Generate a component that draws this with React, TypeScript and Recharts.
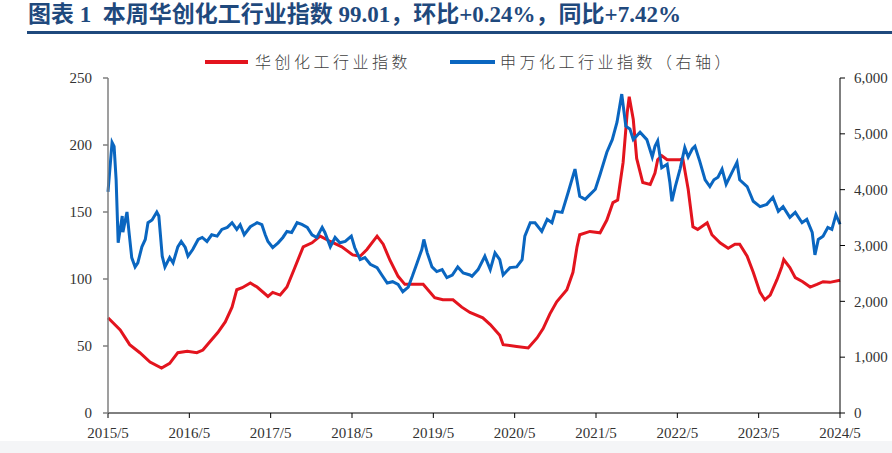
import React from "react";
import { LineChart, Line, XAxis, YAxis } from "recharts";

// X positions are months since 2015/5
const xTickLabels = ["2015/5", "2016/5", "2017/5", "2018/5", "2019/5", "2020/5", "2021/5", "2022/5", "2023/5", "2024/5"];
const xTicks = [0, 12, 24, 36, 48, 60, 72, 84, 96, 108];
const leftTicks = [0, 50, 100, 150, 200, 250];
const rightTicks = [0, 1000, 2000, 3000, 4000, 5000, 6000];

const seriesNames = ["华创化工行业指数", "申万化工行业指数（右轴）"];

// 华创化工行业指数 (left axis)
const hcMonths = [0, 0.3, 1.8, 3.2, 4.7, 6.2, 7.9, 9.1, 10.3, 11.7, 13.1, 14.0, 15.0, 16.2, 17.3, 18.3, 19.0, 19.8, 21.0, 22.0, 23.6, 24.3, 25.4, 26.4, 27.6, 28.8, 30.1, 31.3, 32.8, 34.5, 36.1, 37.2, 38.2, 39.7, 40.6, 41.6, 42.8, 43.8, 46.5, 48.2, 49.4, 50.9, 52.2, 53.4, 55.3, 56.4, 57.8, 58.3, 60.3, 62.0, 63.3, 64.2, 65.2, 66.2, 67.7, 68.6, 69.2, 69.6, 71.1, 72.6, 73.6, 74.5, 75.2, 76.0, 76.6, 76.9, 77.5, 78.0, 78.9, 80.0, 80.7, 81.1, 81.7, 82.5, 84.4, 84.8, 85.6, 86.3, 87.0, 88.4, 89.1, 90.3, 91.5, 92.5, 93.2, 94.3, 95.2, 96.2, 96.9, 97.7, 98.7, 99.4, 99.7, 100.6, 101.4, 102.5, 103.6, 104.6, 105.5, 106.5, 108];
const hcValues = [71, 69.6, 62, 51, 45, 38, 33.5, 37, 45, 46, 45, 47, 53, 60, 68, 79, 92, 93.5, 97, 94, 87, 90, 88, 94, 109, 124, 127, 132, 128, 124, 118, 117, 122, 132, 126, 114, 102, 96, 96, 86, 84.5, 84.5, 79, 75, 71, 66, 58, 51, 49.6, 48.5, 56, 63, 74, 83, 92, 105, 124, 133, 135.5, 134.5, 144, 157, 159, 187, 224, 236, 219, 190, 172, 170.5, 179, 189, 192, 189, 189, 190, 167, 139, 137, 142, 133, 127, 123, 126, 126, 117, 105, 90, 84.5, 88, 99.5, 109, 114.5, 108.5, 101, 98, 94, 96, 98, 97.5, 99.01];

// 申万化工行业指数 (right axis)
const swMonths = [0, 0.6, 0.9, 1.2, 1.5, 2.1, 2.2, 2.8, 3.1, 3.5, 4.0, 4.4, 5.0, 5.5, 5.9, 6.5, 7.2, 7.5, 8.0, 8.4, 9.1, 9.6, 10.3, 10.8, 11.4, 11.8, 12.5, 13.3, 13.9, 14.6, 15.3, 16.1, 16.8, 17.6, 18.3, 19.0, 19.5, 20.1, 21.0, 22.0, 22.7, 23.2, 23.6, 24.3, 25.1, 25.8, 26.4, 27.1, 27.9, 28.6, 29.4, 30.1, 30.8, 31.6, 32.0, 32.8, 33.5, 34.2, 35.0, 35.9, 36.4, 37.2, 37.9, 38.7, 39.7, 40.4, 41.2, 42.0, 42.8, 43.5, 44.3, 44.9, 45.6, 46.3, 46.6, 47.1, 47.8, 48.5, 49.3, 50.0, 50.8, 51.6, 52.4, 53.4, 53.7, 54.6, 55.6, 56.4, 57.1, 57.8, 58.3, 59.3, 60.3, 61.1, 61.5, 62.3, 63.0, 64.0, 64.8, 65.5, 66.0, 67.0, 67.9, 68.9, 69.6, 70.4, 71.1, 71.9, 72.6, 73.6, 74.4, 75.1, 75.8, 76.4, 77.0, 77.5, 78.5, 79.5, 80.3, 80.7, 81.1, 81.7, 82.5, 82.9, 83.2, 83.7, 84.4, 85.1, 85.6, 86.2, 86.6, 87.3, 88.1, 88.8, 89.4, 90.0, 90.6, 91.2, 92.1, 92.8, 93.2, 94.3, 95.2, 96.2, 97.2, 98.1, 98.9, 99.6, 100.6, 101.4, 102.4, 103.1, 103.9, 104.3, 104.8, 105.5, 106.2, 106.8, 107.4, 108];
const swValues = [3960, 4848, 4776, 4176, 3048, 3528, 3240, 3600, 3240, 2784, 2616, 2688, 2976, 3108, 3408, 3456, 3600, 3528, 2808, 2616, 2784, 2688, 2976, 3072, 2964, 2808, 2928, 3108, 3144, 3072, 3192, 3168, 3288, 3324, 3408, 3288, 3372, 3192, 3336, 3408, 3372, 3192, 3072, 2964, 3048, 3144, 3252, 3233, 3408, 3377, 3324, 3192, 3144, 3324, 3233, 2976, 3144, 3048, 3072, 3168, 2964, 2748, 2784, 2664, 2604, 2472, 2328, 2352, 2304, 2172, 2256, 2448, 2688, 2928, 3108, 2868, 2616, 2532, 2568, 2424, 2472, 2616, 2508, 2472, 2448, 2568, 2808, 2568, 2868, 2748, 2472, 2604, 2616, 2748, 3168, 3408, 3408, 3252, 3468, 3408, 3612, 3593, 3953, 4368, 3881, 3826, 3912, 4008, 4272, 4670, 4896, 5208, 5712, 5136, 5088, 4896, 5028, 4896, 4584, 4776, 4872, 4392, 4454, 4128, 3792, 4056, 4368, 4752, 4584, 4728, 4776, 4512, 4176, 4056, 4176, 4224, 4368, 4097, 4320, 4488, 4176, 4056, 3792, 3696, 3737, 3864, 3612, 3696, 3504, 3593, 3408, 3468, 3233, 2832, 3108, 3168, 3324, 3288, 3552, 3380];

const hcData = hcMonths.map((m, i) => ({ m, v: hcValues[i] }));
const swData = swMonths.map((m, i) => ({ m, v: swValues[i] }));

const RED = "#E3141E";
const BLUE = "#0A66C0";
const NAVY = "#1F497D";

const tickStyle = { fontSize: 15, fontFamily: "'Liberation Serif', 'Times New Roman', serif", fill: "#333333" };

export default function App() {
  return (
    <div style={{ position: "absolute", left: 0, top: 0, width: 892, height: 453, background: "#ffffff", overflow: "hidden" }}>
      <div
        style={{
          position: "absolute",
          left: 28,
          top: 2,
          fontSize: 23,
          lineHeight: "26px",
          fontWeight: "bold",
          color: NAVY,
          whiteSpace: "pre",
          fontFamily: "'Liberation Serif', 'Noto Sans CJK SC', serif",
        }}
      >
        {"图表 1  本周华创化工行业指数 99.01，环比+0.24%，同比+7.42%"}
      </div>
      <div style={{ position: "absolute", left: 27, top: 31, width: 865, height: 3, background: NAVY }} />

      {/* legend */}
      <div style={{ position: "absolute", left: 205, top: 60, width: 43, height: 4, background: RED }} />
      <div
        style={{
          position: "absolute",
          left: 255,
          top: 50,
          fontSize: 16,
          lineHeight: "22px",
          letterSpacing: 3.5,
          color: "#404040",
          whiteSpace: "nowrap",
          fontFamily: "'Noto Sans CJK SC', sans-serif",
          fontWeight: 300,
        }}
      >
        {seriesNames[0]}
      </div>
      <div style={{ position: "absolute", left: 450, top: 60, width: 45, height: 4, background: BLUE }} />
      <div
        style={{
          position: "absolute",
          left: 500,
          top: 50,
          fontSize: 16,
          lineHeight: "22px",
          letterSpacing: 3.5,
          color: "#404040",
          whiteSpace: "nowrap",
          fontFamily: "'Noto Sans CJK SC', sans-serif",
          fontWeight: 300,
        }}
      >
        {seriesNames[1]}
      </div>

      <div style={{ position: "absolute", left: 0, top: 0 }}>
        <LineChart width={892} height={453} margin={{ top: 78, right: 0, bottom: 0, left: 0 }}>
          <XAxis
            dataKey="m"
            type="number"
            domain={[0, 108]}
            ticks={xTicks}
            tickFormatter={(v: number) => xTickLabels[Math.round(v / 12)]}
            allowDuplicatedCategory={false}
            height={40}
            stroke="#000000"
            tickLine={{ stroke: "#000000" }}
            tickSize={5}
            tickMargin={9}
            tick={tickStyle}
            interval={0}
          />
          <YAxis
            yAxisId="left"
            orientation="left"
            domain={[0, 250]}
            ticks={leftTicks}
            width={108}
            stroke="#7f7f7f"
            strokeWidth={1.5}
            tickSize={5}
            tickMargin={11}
            tick={tickStyle}
            interval={0}
          />
          <YAxis
            yAxisId="right"
            orientation="right"
            domain={[0, 6000]}
            ticks={rightTicks}
            width={52}
            stroke="#000000"
            tickSize={5}
            tickMargin={9}
            tick={tickStyle}
            tickFormatter={(v: number) => v.toLocaleString("en-US")}
            interval={0}
          />
          <Line
            yAxisId="left"
            data={hcData}
            dataKey="v"
            name={seriesNames[0]}
            stroke={RED}
            strokeWidth={3}
            dot={false}
            type="linear"
            isAnimationActive={false}
          />
          <Line
            yAxisId="right"
            data={swData}
            dataKey="v"
            name={seriesNames[1]}
            stroke={BLUE}
            strokeWidth={3}
            dot={false}
            type="linear"
            isAnimationActive={false}
          />
        </LineChart>
      </div>
      <div style={{ position: "absolute", left: 0, top: 441, width: 892, height: 12, background: "#f4f5f7" }} />
    </div>
  );
}
